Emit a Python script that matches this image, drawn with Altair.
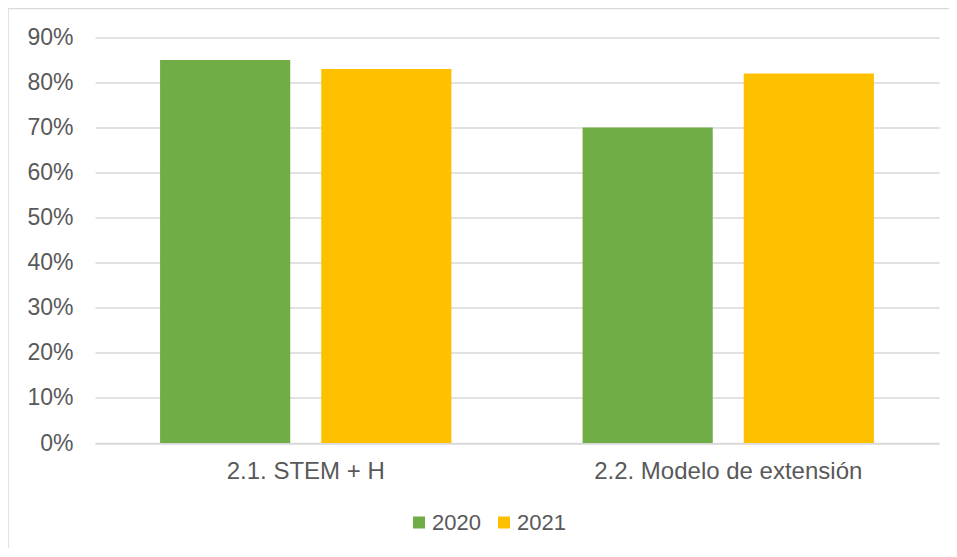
import altair as alt
import pandas as pd

categories = ["2.1. STEM + H", "2.2. Modelo de extensión"]
years = ["2020", "2021"]
values_2020 = [0.85, 0.70]
values_2021 = [0.83, 0.82]
colors = ["#70AD47", "#FFC000"]
y_ticks = [0, 0.1, 0.2, 0.3, 0.4, 0.5, 0.6, 0.7, 0.8, 0.9]

rows = []
for i, c in enumerate(categories):
    rows.append({"cat": c, "year": "2020", "value": values_2020[i]})
    rows.append({"cat": c, "year": "2021", "value": values_2021[i]})
df = pd.DataFrame(rows)

FONT = "Liberation Sans"
TXT = "#595959"
GRID = "#d9d9d9"

bars = alt.Chart(df).mark_bar().encode(
    x=alt.X("cat:N", sort=categories, title=None,
            scale=alt.Scale(paddingInner=0.3104, paddingOuter=0.154),
            axis=alt.Axis(labelAngle=0, labelFontSize=24, labelColor=TXT, labelFont=FONT,
                          labelPadding=16, labelLimit=0, ticks=False, domain=True,
                          domainColor=GRID, domainWidth=1.5, grid=False)),
    xOffset=alt.XOffset("year:N", sort=years,
                        scale=alt.Scale(paddingInner=0.1925, paddingOuter=0)),
    y=alt.Y("value:Q", title=None,
            scale=alt.Scale(domain=[0, 0.9], nice=False),
            axis=alt.Axis(values=y_ticks, format=".0%", labelFontSize=23, labelColor=TXT,
                          labelFont=FONT, labelPadding=22, ticks=False, domain=False,
                          grid=True, gridColor=GRID, gridWidth=1.5)),
    color=alt.Color("year:N", sort=years, title=None,
                    scale=alt.Scale(domain=years, range=colors),
                    legend=alt.Legend(orient="none", direction="horizontal",
                                      legendX=313, legendY=474,
                                      symbolType="square", symbolSize=144,
                                      symbolStrokeWidth=0, labelFontSize=22,
                                      labelColor=TXT, labelFont=FONT, labelOffset=2,
                                      columnPadding=12, padding=0)),
)

border_data = alt.Data(values=[{"a": 1}])
top_border = alt.Chart(border_data).mark_rule(color=GRID, strokeWidth=1.5).encode(
    x=alt.value(-87), x2=alt.value(870), y=alt.value(-29)
)
left_border = alt.Chart(border_data).mark_rule(color=GRID, strokeWidth=1.5).encode(
    x=alt.value(-87), y=alt.value(-29), y2=alt.value(530)
)

chart = alt.layer(bars, top_border, left_border).properties(
    width=844, height=405.5,
    background="white",
    autosize=alt.AutoSizeParams(type="none"),
    padding={"left": 87, "top": 29.5, "right": 10, "bottom": 105},
).configure_view(stroke="transparent")

chart.save("out.html", embed_options={"renderer": "svg", "actions": False})
